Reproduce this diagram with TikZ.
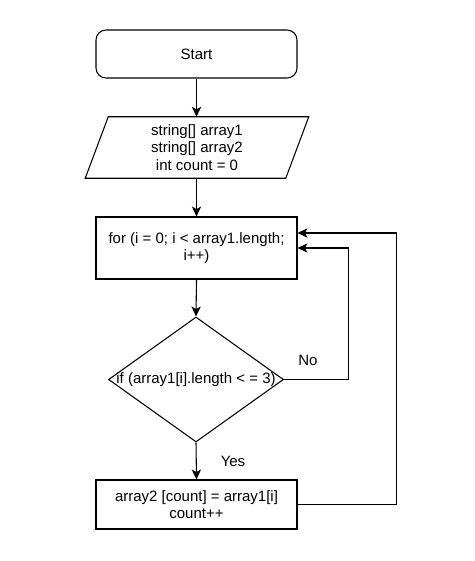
\documentclass[tikz,border=0pt]{standalone}
\usepackage{fontspec}
\setmainfont{Liberation Sans}
\usetikzlibrary{shapes.geometric,arrows.meta}
\begin{document}
\begin{tikzpicture}[x=0.75pt,y=-0.75pt,
  every node/.style={font=\fontsize{11.25}{13.2}\selectfont, align=center},
  line/.style={line width=0.8pt},
  arr/.style={line, -{Stealth[length=7.5pt,width=7pt,inset=2pt]}},
  boxs/.style={draw, line width=0.8pt, minimum width=201*0.75pt, inner sep=0pt}
]
\useasboundingbox[fill=white] (0,0) rectangle (475,561);
\node[boxs, rounded corners=7.5pt, minimum height=48*0.75pt] (start) at (196.5,54) {Start};
\node[minimum width=200*0.75pt, minimum height=61*0.75pt, inner sep=0pt] (io) at (197,147.5) {string[] array1\\string[] array2\\int count = 0};
\draw[line] ([xshift=23*0.375pt]io.north west) -- ([xshift=23*0.375pt]io.north east)
  -- ([xshift=-23*0.375pt]io.south east) -- ([xshift=-23*0.375pt]io.south west) -- cycle;
\node[boxs, minimum height=62*0.75pt] (loop) at (196.5,248) {for (i = 0; i < array1.length;\\i++)};
\node[draw, diamond, line width=0.8pt, minimum width=175*0.75pt, minimum height=125*0.75pt, inner sep=0pt] (dec) at (196,379.5) {};
\node at (dec.center) {if (array1[i].length < = 3)};
\node[boxs, minimum height=49*0.75pt] (act) at (196.5,504.5) {array2 [count] = array1[i]\\count++};
\node (no) at (308,360) {No};
\node (yes) at (233,461) {Yes};
\draw[arr] (start.south) -- (start.south |- io.north);
\draw[arr] (start.south |- io.south) -- (loop.north);
\draw[arr] (loop.south) -- (dec.north);
\draw[arr] (dec.south) -- (act.north);
\draw[arr] (dec.east) -- ++(64,0) |- (loop.east);
\draw[arr] (act.east) -- ++(99,0) |- ([yshift=11.25pt]loop.east);
\end{tikzpicture}
\end{document}
